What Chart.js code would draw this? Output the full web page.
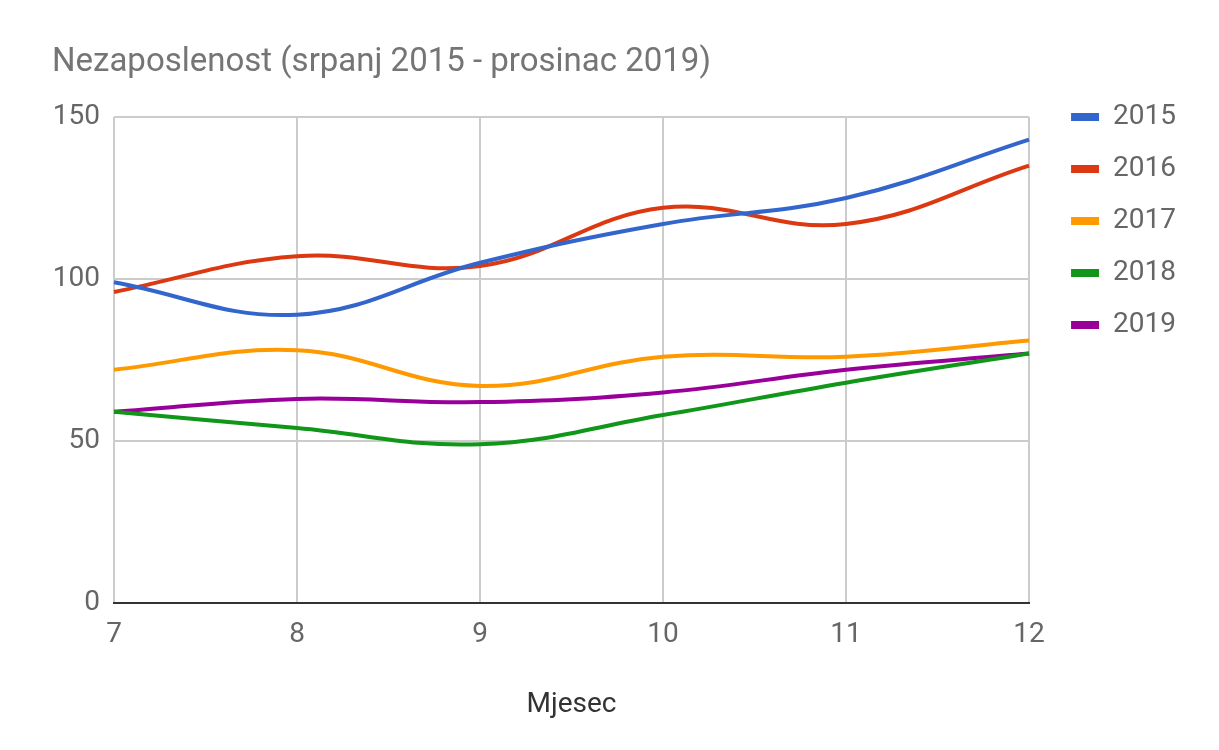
<!DOCTYPE html>
<html>
<head>
<meta charset="utf-8">
<script src="https://cdn.jsdelivr.net/npm/chart.js@4"></script>
<style>
  body { margin: 0; background: #fff; }
</style>
</head>
<body>
<canvas id="chart" width="1219" height="750"></canvas>
<script>
// months on the x axis
const months = ['7', '8', '9', '10', '11', '12'];
// one series per year
const y2015 = [99, 89, 105, 117, 125, 143];
const y2016 = [96, 107, 104, 122, 117, 135];
const y2017 = [72, 78, 67, 76, 76, 81];
const y2018 = [59, 54, 49, 58, 68, 77];
const y2019 = [59, 63, 62, 65, 72, 77];
const years = ['2015', '2016', '2017', '2018', '2019'];
const colors = ['#3366cc', '#dc3912', '#ff9900', '#109618', '#990099'];
const yTicks = [0, 50, 100, 150];

const series = [y2015, y2016, y2017, y2018, y2019];
const datasets = series.map((d, i) => ({
  label: years[i],
  data: d,
  borderColor: colors[i],
  backgroundColor: colors[i],
  borderWidth: 4,
  pointRadius: 0,
  tension: 0.4
}));

Chart.defaults.font.family = 'Roboto';

// push legend a bit right, like the original
const legendShift = {
  id: 'legendShift',
  afterLayout(chart) {
    chart.legend.left += 18;
    chart.legend.right += 18;
  }
};

new Chart(document.getElementById('chart'), {
  type: 'line',
  data: { labels: months, datasets: datasets },
  plugins: [legendShift],
  options: {
    responsive: false,
    animation: false,
    layout: { padding: { left: 52, right: 51, top: 0, bottom: 0 } },
    plugins: {
      title: {
        display: true,
        text: 'Nezaposlenost (srpanj 2015 - prosinac 2019)',
        align: 'start',
        color: '#757575',
        font: { size: 33, weight: 'normal' },
        padding: { top: 43.2, bottom: 34.2 }
      },
      legend: {
        position: 'right',
        align: 'start',
        title: { display: true, text: '', font: { size: 12 }, padding: { top: 64.6, bottom: 0 } },
        labels: {
          boxWidth: 28,
          boxHeight: 8,
          padding: 24,
          color: '#666',
          font: { size: 28 },
          generateLabels(chart) {
            const items = Chart.defaults.plugins.legend.labels.generateLabels(chart);
            items.forEach(it => { it.lineWidth = 0; });
            return items;
          }
        }
      },
      tooltip: { enabled: false }
    },
    scales: {
      x: {
        type: 'category',
        offset: false,
        afterFit(axis) { axis.height = 147; },
        grid: { color: '#cccccc', lineWidth: 2, drawTicks: false },
        border: { color: '#333', width: 2 },
        ticks: { color: '#666', font: { size: 28 }, padding: 15, maxRotation: 0 },
        title: {
          display: true,
          text: 'Mjesec',
          color: '#333',
          font: { size: 28 },
          padding: { top: 30, bottom: 28 }
        }
      },
      y: {
        min: 0,
        max: 150,
        afterBuildTicks(axis) { axis.ticks = yTicks.map(v => ({ value: v })); },
        afterFit(axis) { axis.width = 62; },
        grid: { color: '#cccccc', lineWidth: 2, drawTicks: false },
        border: { display: false },
        ticks: { color: '#666', font: { size: 28 }, padding: 14 }
      }
    }
  }
});
</script>
</body>
</html>
